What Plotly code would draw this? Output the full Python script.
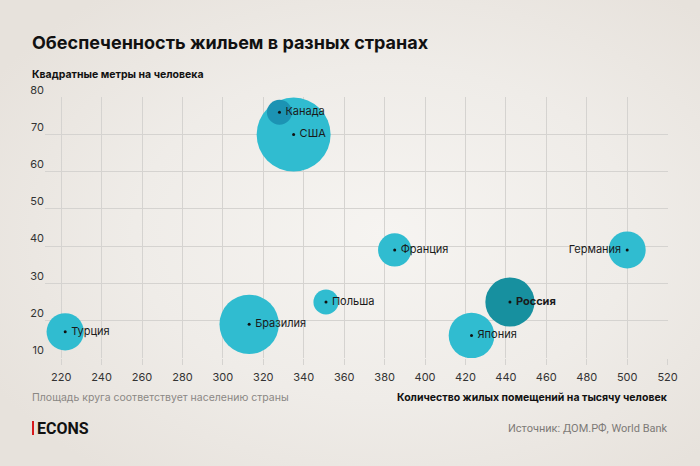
import base64
import math
import plotly.graph_objects as go

# ---- data ----
countries = ["Турция", "Бразилия", "США", "Канада", "Польша", "Франция", "Япония", "Россия", "Германия"]
rooms_per_1000 = [222, 313, 335, 328, 351, 385, 423, 442, 500]
sqm_per_person = [17, 19, 70, 76, 25, 39, 16, 25, 39]
population_mln = [84, 213, 331, 38, 38, 67, 126, 146, 83]

x_ticks = [220, 240, 260, 280, 300, 320, 340, 360, 380, 400, 420, 440, 460, 480, 500, 520]
y_ticks = [10, 20, 30, 40, 50, 60, 70, 80]

base_color = "#30bcd0"
canada_color = "#1c93b3"
russia_color = "#17909f"
colors = []
for c in countries:
    if c == "Россия":
        colors.append(russia_color)
    elif c == "Канада":
        colors.append(canada_color)
    else:
        colors.append(base_color)

NB = "\u00a0"
labels = []
positions = []
for c in countries:
    t = "<b>%s</b>" % c if c == "Россия" else c
    if c == "Германия":
        labels.append(t + NB)
        positions.append("middle left")
    else:
        labels.append(NB + t)
        positions.append("middle right")

# bubble diameter proportional to sqrt(population) (area ~ population)
px_per_sqrt = 74 / math.sqrt(331)
diameters = [math.sqrt(p) * px_per_sqrt for p in population_mln]

# layout geometry
W, H = 700, 466
ML, MR, MT, MB = 45, 32, 97, 108
pw = W - ML - MR
ph = H - MT - MB

fig = go.Figure()

# background radial gradient
svg = f'''<svg xmlns="http://www.w3.org/2000/svg" width="{W}" height="{H}" viewBox="0 0 {W} {H}">
<defs><radialGradient id="g" cx="0.55" cy="0.5" r="0.65">
<stop offset="0" stop-color="#f6f4f1"/><stop offset="0.55" stop-color="#efece8"/><stop offset="1" stop-color="#e7e2dc"/>
</radialGradient></defs><rect width="{W}" height="{H}" fill="url(#g)"/></svg>'''
src = "data:image/svg+xml;base64," + base64.b64encode(svg.encode()).decode()
fig.add_layout_image(dict(source=src, xref="paper", yref="paper",
                          x=-ML / pw, y=1 + MT / ph, sizex=W / pw, sizey=H / ph,
                          xanchor="left", yanchor="top", sizing="stretch", layer="below"))

fig.add_trace(go.Scatter(
    x=rooms_per_1000, y=sqm_per_person, mode="markers",
    marker=dict(size=diameters, sizemode="diameter", sizeref=1,
                color=colors, line=dict(width=0), opacity=1),
    hoverinfo="skip", showlegend=False))

# center dots + labels
fig.add_trace(go.Scatter(
    x=rooms_per_1000, y=sqm_per_person, mode="markers+text",
    marker=dict(size=3, color="#111111"),
    text=labels, textposition=positions,
    textfont=dict(family="Inter, Roboto, sans-serif", size=11, color="#1a1a1a"),
    hoverinfo="skip", showlegend=False))

grid = "#d5d3d0"
fig.update_xaxes(range=[212, 520.2], tickvals=x_ticks, ticktext=[str(v) for v in x_ticks],
                 showgrid=True, gridcolor=grid, gridwidth=1, zeroline=False, showline=False,
                 ticks="outside", ticklen=6, tickcolor=grid, ticklabelstandoff=3,
                 tickfont=dict(family="Inter, Roboto, sans-serif", size=11, color="#333333"))
fig.update_yaxes(range=[9.95, 80.1], tickvals=y_ticks, ticktext=[str(v) for v in y_ticks],
                 showgrid=True, gridcolor=grid, gridwidth=1, zeroline=False, showline=False,
                 ticklabelposition="outside top", ticks="",
                 tickfont=dict(family="Inter, Roboto, sans-serif", size=11, color="#333333"))

ann_font = "Inter, Roboto, sans-serif"
annotations = [
    dict(text="<b>Обеспеченность жильем в разных странах</b>", x=30, y=42,
         font=dict(family=ann_font, size=18, color="#111111")),
    dict(text="<b>Квадратные метры на человека</b>", x=30, y=75,
         font=dict(family=ann_font, size=10.5, color="#111111")),
    dict(text="Площадь круга соответствует населению страны", x=30, y=397,
         font=dict(family=ann_font, size=10.5, color="#8a8784")),
    dict(text="<b>Количество жилых помещений на тысячу человек</b>", x=670, y=397, xanchor="right",
         font=dict(family=ann_font, size=10.5, color="#111111")),
    dict(text="<b>ECONS</b>", x=35, y=428,
         font=dict(family="Roboto, sans-serif", size=16, color="#111111")),
    dict(text="Источник: ДОМ.РФ, World Bank", x=670, y=428, xanchor="right",
         font=dict(family="Roboto, sans-serif", size=11, color="#7d7a77")),
]
for a in annotations:
    a.setdefault("xanchor", "left")
    a["xref"] = "paper"
    a["yref"] = "paper"
    a["x"] = (a["x"] - ML) / pw
    a["y"] = 1 - (a["y"] - MT) / ph
    a["yanchor"] = "middle"
    a["showarrow"] = False
    fig.add_annotation(**a)

# red bar of logo
fig.add_shape(type="rect", xref="paper", yref="paper",
              x0=(32 - ML) / pw, x1=(34 - ML) / pw,
              y0=1 - (435 - MT) / ph, y1=1 - (421 - MT) / ph,
              fillcolor="#d7191c", line=dict(width=0))

fig.update_layout(width=W, height=H, margin=dict(l=ML, r=MR, t=MT, b=MB),
                  paper_bgcolor="#ece8e3", plot_bgcolor="rgba(0,0,0,0)")

fig.write_html("out.html")
